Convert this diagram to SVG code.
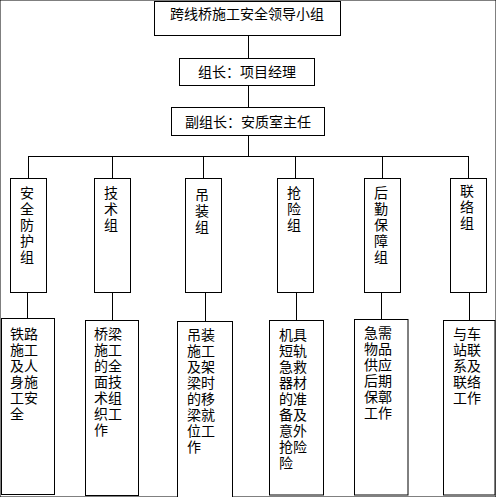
<svg xmlns="http://www.w3.org/2000/svg" width="496" height="497" viewBox="0 0 496 497">
<style>
rect{fill:#fff;stroke:#000;stroke-width:1}
line{stroke:#000;stroke-width:1}
text{font-family:"Noto Sans CJK SC","Liberation Sans",sans-serif;font-size:14px;fill:#000}
.c{text-anchor:middle}
</style>
<rect width="496" height="497" fill="#fff" stroke="none"/>
<g id="connectors">
<line x1="248.5" y1="35.5" x2="248.5" y2="58.5"/>
<line x1="248.5" y1="85.5" x2="248.5" y2="107.5"/>
<line x1="248.5" y1="135.5" x2="248.5" y2="156.5"/>
<line x1="28" y1="156.5" x2="469" y2="156.5"/>
<line x1="28.5" y1="156.5" x2="28.5" y2="178.5"/>
<line x1="112.5" y1="156.5" x2="112.5" y2="178.5"/>
<line x1="203.5" y1="156.5" x2="203.5" y2="178.5"/>
<line x1="295.5" y1="156.5" x2="295.5" y2="178.5"/>
<line x1="382.5" y1="156.5" x2="382.5" y2="178.5"/>
<line x1="468.5" y1="156.5" x2="468.5" y2="178.5"/>
<line x1="27.5" y1="292.5" x2="27.5" y2="318.5"/>
<line x1="112.5" y1="292.5" x2="112.5" y2="320.5"/>
<line x1="205.5" y1="292.5" x2="205.5" y2="321.5"/>
<line x1="296.5" y1="292.5" x2="296.5" y2="320.5"/>
<line x1="381.5" y1="292.5" x2="381.5" y2="319.5"/>
<line x1="469.5" y1="292.5" x2="469.5" y2="320.5"/>
</g>
<g id="n-top"><rect x="154.5" y="1.5" width="186" height="34"/><text class="c" x="247" y="19">跨线桥施工安全领导小组</text></g>
<g id="n-leader"><rect x="179.5" y="58.5" width="135" height="27"/><text class="c" x="247" y="77">组长：项目经理</text></g>
<g id="n-deputy"><rect x="171.5" y="107.5" width="153" height="28"/><text class="c" x="248" y="126.5">副组长：安质室主任</text></g>
<g id="g1"><rect x="10.5" y="178.5" width="36" height="114"/><text x="20" y="198"><tspan x="20">安</tspan><tspan x="20" dy="16">全</tspan><tspan x="20" dy="16">防</tspan><tspan x="20" dy="16">护</tspan><tspan x="20" dy="16">组</tspan></text></g>
<g id="g2"><rect x="94.5" y="178.5" width="36" height="114"/><text x="104" y="198"><tspan x="104">技</tspan><tspan x="104" dy="16">术</tspan><tspan x="104" dy="16">组</tspan></text></g>
<g id="g3"><rect x="185.5" y="178.5" width="36" height="114"/><text x="195" y="200"><tspan x="195">吊</tspan><tspan x="195" dy="16">装</tspan><tspan x="195" dy="16">组</tspan></text></g>
<g id="g4"><rect x="277.5" y="178.5" width="36" height="114"/><text x="287" y="198"><tspan x="287">抢</tspan><tspan x="287" dy="16">险</tspan><tspan x="287" dy="16">组</tspan></text></g>
<g id="g5"><rect x="364.5" y="178.5" width="36" height="114"/><text x="374" y="198"><tspan x="374">后</tspan><tspan x="374" dy="16">勤</tspan><tspan x="374" dy="16">保</tspan><tspan x="374" dy="16">障</tspan><tspan x="374" dy="16">组</tspan></text></g>
<g id="g6"><rect x="450.5" y="178.5" width="36" height="114"/><text x="460" y="196"><tspan x="460">联</tspan><tspan x="460" dy="16">络</tspan><tspan x="460" dy="16">组</tspan></text></g>
<g id="d1"><rect x="1.5" y="318.5" width="53" height="176"/><text x="10" y="339"><tspan x="10">铁路</tspan><tspan x="10" dy="16">施工</tspan><tspan x="10" dy="16">及人</tspan><tspan x="10" dy="16">身施</tspan><tspan x="10" dy="16">工安</tspan><tspan x="10" dy="16">全</tspan></text></g>
<g id="d2"><rect x="85.5" y="320.5" width="53" height="175"/><text x="94" y="339"><tspan x="94">桥梁</tspan><tspan x="94" dy="16">施工</tspan><tspan x="94" dy="16">的全</tspan><tspan x="94" dy="16">面技</tspan><tspan x="94" dy="16">术组</tspan><tspan x="94" dy="16">织工</tspan><tspan x="94" dy="16">作</tspan></text></g>
<g id="d3"><rect x="177.5" y="321.5" width="55" height="180"/><text x="187" y="340"><tspan x="187">吊装</tspan><tspan x="187" dy="16">施工</tspan><tspan x="187" dy="16">及架</tspan><tspan x="187" dy="16">梁时</tspan><tspan x="187" dy="16">的移</tspan><tspan x="187" dy="16">梁就</tspan><tspan x="187" dy="16">位工</tspan><tspan x="187" dy="16">作</tspan></text></g>
<g id="d4"><rect x="269.5" y="320.5" width="54" height="174.5"/><text x="279" y="340"><tspan x="279">机具</tspan><tspan x="279" dy="16">短轨</tspan><tspan x="279" dy="16">急救</tspan><tspan x="279" dy="16">器材</tspan><tspan x="279" dy="16">的准</tspan><tspan x="279" dy="16">备及</tspan><tspan x="279" dy="16">意外</tspan><tspan x="279" dy="16">抢险</tspan><tspan x="279" dy="16">险</tspan></text></g>
<g id="d5"><rect x="354.5" y="319.5" width="53.5" height="175.5"/><text x="364" y="338"><tspan x="364">急需</tspan><tspan x="364" dy="16">物品</tspan><tspan x="364" dy="16">供应</tspan><tspan x="364" dy="16">后期</tspan><tspan x="364" dy="16">保鄣</tspan><tspan x="364" dy="16">工作</tspan></text></g>
<g id="d6"><rect x="443.5" y="320.5" width="51.5" height="174.5"/><text x="453" y="339"><tspan x="453">与车</tspan><tspan x="453" dy="16">站联</tspan><tspan x="453" dy="16">系及</tspan><tspan x="453" dy="16">联络</tspan><tspan x="453" dy="16">工作</tspan></text></g>
</svg>
